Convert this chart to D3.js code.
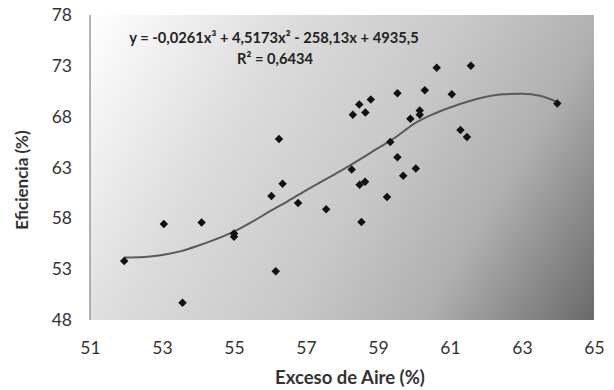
<!DOCTYPE html>
<html>
<head>
<meta charset="utf-8">
<script src="https://cdn.jsdelivr.net/npm/d3@7"></script>
<style>
  body { margin: 0; background: #fff; }
  svg { display: block; font-family: Lato, "Open Sans", sans-serif; }
</style>
</head>
<body>
<div id="chart"></div>
<script>
// measured points
const excesoAire = [51.95, 53.05, 53.57, 54.1, 55.0, 55.0, 56.04, 56.16, 56.25, 56.35, 56.78, 57.56,
  58.27, 58.3, 58.48, 58.49, 58.54, 58.64, 58.65, 58.8, 59.25, 59.34, 59.54, 59.54, 59.7, 59.9,
  60.05, 60.16, 60.16, 60.3, 60.63, 61.05, 61.29, 61.47, 61.58, 63.98];
const eficiencia = [53.8, 57.45, 49.7, 57.6, 56.5, 56.2, 60.2, 52.8, 65.8, 61.4, 59.5, 58.9,
  62.8, 68.2, 69.2, 61.3, 57.65, 61.6, 68.4, 69.7, 60.1, 65.5, 64.0, 70.3, 62.2, 67.8,
  62.9, 68.6, 68.2, 70.6, 72.8, 70.2, 66.7, 66.0, 73.0, 69.3];

// polynomial trend line
const trendX = [51.95, 52.5, 53.0, 53.5, 54.0, 54.5, 55.0, 55.5, 56.0, 56.5, 57.0, 57.5, 58.0,
  58.5, 59.0, 59.5, 60.0, 60.5, 61.0, 61.5, 62.0, 62.5, 63.0, 63.5, 63.98];
const trendY = [54.15, 54.2, 54.4, 54.75, 55.3, 55.95, 56.7, 57.65, 58.7, 59.7, 60.75, 61.75, 62.75,
  63.8, 64.9, 66.0, 67.3, 68.2, 68.9, 69.5, 69.95, 70.2, 70.25, 70.05, 69.45];

const xTicks = [51, 53, 55, 57, 59, 61, 63, 65];
const yTicks = [48, 53, 58, 63, 68, 73, 78];

const ecuacion = 'y = -0,0261x³ + 4,5173x² - 258,13x + 4935,5';
const r2 = 'R² = 0,6434';

const width = 614, height = 390;
const margin = {top: 15, right: 20, bottom: 70, left: 90};
const w = width - margin.left - margin.right;
const h = height - margin.top - margin.bottom;

const svg = d3.select('#chart')
  .append('svg')
  .attr('width', width)
  .attr('height', height);

// background gradient: white top-left to dark grey bottom-right
const defs = svg.append('defs');
const grad = defs.append('linearGradient')
  .attr('id', 'bg')
  .attr('gradientUnits', 'userSpaceOnUse')
  .attr('x1', 0).attr('y1', 0)
  .attr('x2', w).attr('y2', h);
grad.append('stop').attr('offset', '0').attr('stop-color', '#ffffff');
grad.append('stop').attr('offset', '0.3').attr('stop-color', '#dcdcdc');
grad.append('stop').attr('offset', '0.55').attr('stop-color', '#c8c8c8');
grad.append('stop').attr('offset', '0.75').attr('stop-color', '#b0b0b0');
grad.append('stop').attr('offset', '1').attr('stop-color', '#6a6a6a');

const g = svg.append('g')
  .attr('transform', 'translate(' + margin.left + ',' + margin.top + ')');

const x = d3.scaleLinear().domain([51, 65]).range([0, w]);
const y = d3.scaleLinear().domain([48, 78]).range([h, 0]);

g.append('rect')
  .attr('width', w)
  .attr('height', h)
  .attr('fill', 'url(#bg)');

// left axis line
g.append('line')
  .attr('x1', 0).attr('x2', 0)
  .attr('y1', 0).attr('y2', h)
  .attr('stroke', '#9a9a9a')
  .attr('stroke-width', 1.5);

const xAxis = g.append('g')
  .attr('transform', 'translate(0,' + h + ')')
  .call(d3.axisBottom(x).tickValues(xTicks).tickSize(0).tickPadding(22).tickFormat(d3.format('d')));
xAxis.select('.domain').remove();

const yAxis = g.append('g')
  .call(d3.axisLeft(y).tickValues(yTicks).tickSize(0).tickPadding(18).tickFormat(d3.format('d')));
yAxis.select('.domain').remove();

svg.selectAll('.tick text')
  .attr('font-family', 'Lato, sans-serif')
  .attr('font-size', 17.5)
  .attr('fill', '#333');

// trend line
const pts = trendX.map((d, i) => [d, trendY[i]]);
g.append('path')
  .datum(pts)
  .attr('fill', 'none')
  .attr('stroke', '#5a5a5a')
  .attr('stroke-width', 2)
  .attr('d', d3.line().x(d => x(d[0])).y(d => y(d[1])).curve(d3.curveMonotoneX));

// points
const data = excesoAire.map((d, i) => ({x: d, y: eficiencia[i]}));
g.append('g')
  .selectAll('path')
  .data(data)
  .enter()
  .append('path')
  .attr('d', d3.symbol().type(d3.symbolSquare).size(36))
  .attr('transform', d => 'translate(' + x(d.x) + ',' + y(d.y) + ') rotate(45)')
  .attr('fill', '#111');

// equation
svg.append('text')
  .attr('x', 274).attr('y', 43)
  .attr('text-anchor', 'middle')
  .attr('font-weight', 'bold')
  .attr('font-size', 14.7)
  .attr('fill', '#222')
  .text(ecuacion);
svg.append('text')
  .attr('x', 275).attr('y', 64)
  .attr('text-anchor', 'middle')
  .attr('font-weight', 'bold')
  .attr('font-size', 14.7)
  .attr('fill', '#222')
  .text(r2);

// axis titles
svg.append('text')
  .attr('transform', 'translate(28,180) rotate(-90)')
  .attr('text-anchor', 'middle')
  .attr('font-weight', 'bold')
  .attr('font-size', 17)
  .attr('fill', '#333')
  .text('Eficiencia (%)');
svg.append('text')
  .attr('x', 350).attr('y', 384)
  .attr('text-anchor', 'middle')
  .attr('font-weight', 'bold')
  .attr('font-size', 18.5)
  .attr('fill', '#333')
  .text('Exceso de Aire (%)');
</script>
</body>
</html>
